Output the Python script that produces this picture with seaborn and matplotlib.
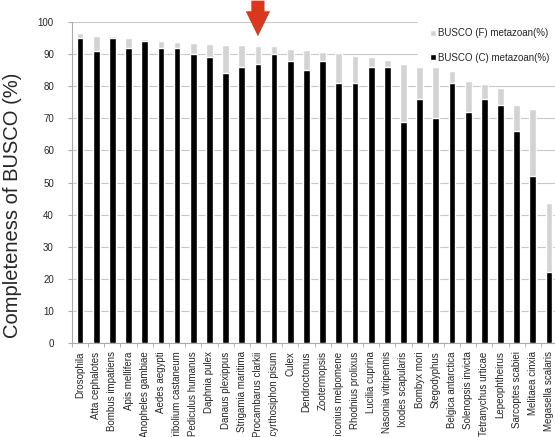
import numpy as np
import pandas as pd
import matplotlib.pyplot as plt
import seaborn as sns
from matplotlib.patches import Patch

# Species, in the order shown
species = ['Drosophila', 'Atta cephalotes', 'Bombus impatiens', 'Apis mellifera',
           'Anopheles gambiae', 'Aedes aegypti', 'Tribolium castaneum',
           'Pediculus humanus', 'Daphnia pulex', 'Danaus plexippus',
           'Strigamia maritima', 'Procambarus clarkii', 'Acyrthosiphon pisum',
           'Culex', 'Dendroctonus', 'Zootermopsis', 'Heliconius melpomene',
           'Rhodnius prolixus', 'Lucilia cuprina', 'Nasonia vitripennis',
           'Ixodes scapularis', 'Bombyx mori', 'Stegodyphus', 'Belgica antarctica',
           'Solenopsis invicta', 'Tetranychus urticae', 'Lepeophtheirus',
           'Sarcoptes scabiei', 'Melitaea cinxia', 'Megasella scalaris']

# BUSCO complete (%)
complete = [95, 91, 95, 92, 94, 92, 92, 90, 89, 84,
            86, 87, 90, 88, 85, 88, 81, 81, 86, 86,
            69, 76, 70, 81, 72, 76, 74, 66, 52, 22]

# BUSCO fragmented (%)
fragmented = [1.5, 4.8, 0.7, 3.0, 0.7, 2.2, 1.8, 3.5, 4.2, 8.8,
              6.8, 5.5, 2.5, 3.5, 6.2, 2.7, 9.5, 8.4, 3.2, 2.3,
              17.9, 10.0, 16.0, 3.8, 9.6, 4.6, 5.6, 8.0, 20.8, 21.7]

highlight = 'Procambarus clarkii'

df = pd.DataFrame({'species': species, 'complete': complete, 'fragmented': fragmented})
df['total'] = df['complete'] + df['fragmented']

sns.set_style('white')
plt.rcParams['font.family'] = ['Liberation Sans', 'DejaVu Sans']

fig = plt.figure(figsize=(5.55, 4.37), dpi=100)
ax = fig.add_axes([0.1297, 0.215, 0.874, 0.7346])

# Stacked bars: fragmented on top of complete
sns.barplot(data=df, x='species', y='total', color='#d3d3d3', width=0.42,
            saturation=1, ax=ax, zorder=2)
sns.barplot(data=df, x='species', y='complete', color='black', width=0.42,
            saturation=1, ax=ax, zorder=3)

ax.set_ylim(0, 100)
ax.set_xlim(-0.5, len(species) - 0.5)
ax.set_yticks(np.arange(0, 101, 10))
ax.yaxis.grid(True, color='#c8c8c8', lw=0.8, zorder=0)
ax.set_axisbelow(True)

ax.set_xlabel('')
ax.set_ylabel('Completeness of BUSCO (%)', fontsize=14.5)
ax.yaxis.set_label_coords(-0.103, 0.43)
ax.tick_params(axis='y', labelsize=7, length=3, color='#aaaaaa', pad=10, left=True)
ax.tick_params(axis='x', which='major', labelsize=7, length=0, pad=6, rotation=90)
ax.set_xticks(np.arange(len(species)) - 0.5, minor=True)
ax.tick_params(axis='x', which='minor', length=3, color='#aaaaaa', bottom=True)

for s in ['top', 'right']:
    ax.spines[s].set_visible(False)
for s in ['left', 'bottom']:
    ax.spines[s].set_color('#aaaaaa')
    ax.spines[s].set_linewidth(0.8)

# Red arrow above the highlighted species
xi = species.index(highlight)
ax.annotate('', xy=(xi, 94.7), xytext=(xi, 107.5), annotation_clip=False,
            arrowprops=dict(arrowstyle='simple,head_length=1.8,head_width=1.75,tail_width=0.95',
                            mutation_scale=10, color='#d9381e', lw=0))

handles = [Patch(facecolor='#d3d3d3', label='BUSCO (F) metazoan(%)'),
           Patch(facecolor='black', label='BUSCO (C) metazoan(%)')]
leg = ax.legend(handles=handles, loc='upper left', bbox_to_anchor=(418 / 555, 1 - 16 / 437),
                bbox_transform=fig.transFigure, fontsize=7, frameon=True,
                facecolor='white', edgecolor='white', framealpha=1, fancybox=False,
                handlelength=0.55, handleheight=0.55, handletextpad=0.3,
                labelspacing=1.5, borderpad=1.25, borderaxespad=0)
# above the gridlines, below the bars
leg.set_zorder(1)

plt.savefig('out.png', dpi=100)
